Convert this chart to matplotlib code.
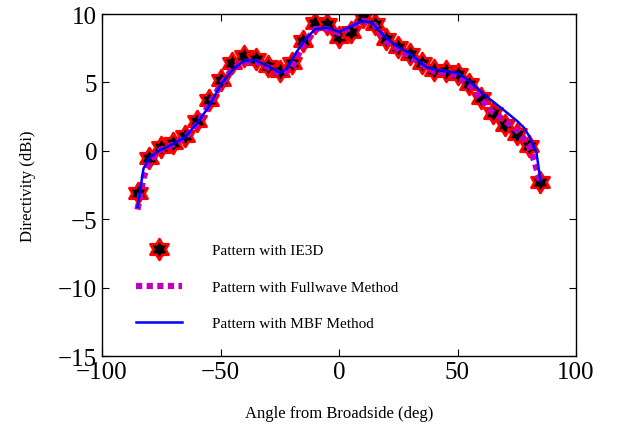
import numpy as np
import matplotlib
matplotlib.use('Agg')
import matplotlib.pyplot as plt
from matplotlib.path import Path

plt.rcParams['font.family'] = ['Liberation Serif', 'DejaVu Serif']

# IE3D samples (every 5 deg)
ie3d_angle = np.arange(-85, 90, 5)
ie3d_db = [-3.1, -0.55, 0.25, 0.55, 1.1, 2.15, 3.7, 5.2, 6.4, 6.95, 6.7, 6.2,
           5.8, 6.4, 8.0, 9.35, 9.27, 8.35, 8.7, 9.75, 9.27, 8.2, 7.6, 7.1,
           6.45, 5.9, 5.85, 5.6, 4.9, 3.85, 2.75, 1.9, 1.2, 0.37, -2.27]

# Fullwave method
fw_angle = [-85, -82.5, -80, -75, -70, -65, -60, -55, -50, -45, -40, -35, -30,
            -25, -20, -15, -10, -5, 0, 5, 10, 15, 20, 25, 30, 35, 40, 45, 50,
            55, 60, 65, 70, 75, 80, 82.5, 85]
fw_db = [-4.3, -2.0, -0.7, 0.1, 0.45, 0.95, 1.9, 3.3, 4.8, 6.0, 6.5, 6.5, 6.1,
         5.6, 6.0, 7.8, 8.9, 8.9, 8.6, 9.0, 9.5, 9.2, 8.0, 7.4, 6.9, 6.3, 5.8,
         5.7, 5.5, 4.8, 3.8, 2.8, 2.2, 1.5, 0.4, -0.8, -2.3]

# MBF method
mbf_angle = [-85, -82.5, -80, -76, -70, -65, -60, -55, -50, -45, -40, -35, -30,
             -25, -22, -18, -14, -10, -5, 0, 5, 10, 14, 19, 24, 30, 37, 43, 50,
             55, 62, 69, 75, 78, 80.5, 83.3, 85]
mbf_db = [-4.1, -1.3, -0.5, 0.0, 0.5, 1.0, 2.0, 3.2, 4.8, 5.9, 6.6, 6.6, 6.2,
          5.7, 6.0, 7.2, 8.2, 8.9, 9.0, 8.7, 9.1, 9.5, 9.35, 8.4, 7.7, 7.1,
          6.1, 5.85, 5.7, 5.1, 4.0, 3.05, 2.2, 1.7, 1.0, -0.1, -2.2]

# hexagram marker like matlab's 'h'
hexagram = Path.unit_regular_star(6, innerCircle=0.577)

fig = plt.figure(figsize=(6.18, 4.39), dpi=100)
ax = fig.add_axes([102/618, 1-357/439, 474/618, 342/439])

ax.plot(ie3d_angle, ie3d_db, linestyle='none', marker=hexagram, markersize=15,
        mfc='k', mec='r', mew=2.0, label='Pattern with IE3D')
ax.plot(fw_angle, fw_db, color='#c000c0', lw=4.5, dashes=(1.0, 0.7),
        dash_capstyle='butt', label='Pattern with Fullwave Method')
ax.plot(mbf_angle, mbf_db, color='b', lw=1.8, label='Pattern with MBF Method')

ax.set_xlim(-100, 100)
ax.set_ylim(-15, 10)
ax.set_xticks([-100, -50, 0, 50, 100])
ax.set_yticks([-15, -10, -5, 0, 5, 10])
ax.tick_params(direction='in', top=True, right=True, labelsize=18, length=5)
for s in ax.spines.values():
    s.set_linewidth(1.0)

ax.set_xlabel('Angle from Broadside (deg)', fontsize=12, labelpad=16)
ax.set_ylabel('Directivity (dBi)', fontsize=12, labelpad=16)

ax.legend(loc='center left', bbox_to_anchor=(136/618, 1-288/439),
          bbox_transform=fig.transFigure, frameon=False, fontsize=11,
          handlelength=3.0, handletextpad=2.0, labelspacing=1.5,
          borderpad=0, borderaxespad=0)

fig.savefig('out.png', dpi=100)
